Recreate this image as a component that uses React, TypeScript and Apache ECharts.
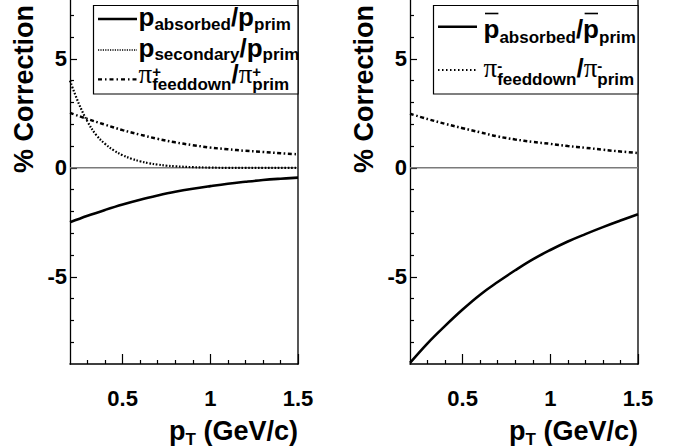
import React, { useEffect, useRef } from "react";
import * as echarts from "echarts";

// ---------- data ----------
const ptCoarse = [0.2, 0.3, 0.4, 0.5, 0.6, 0.7, 0.8, 0.9, 1.0, 1.1, 1.2, 1.3, 1.4, 1.5];
const ptFine = [0.2, 0.25, 0.3, 0.35, 0.4, 0.45, 0.5, 0.55, 0.6, 0.65, 0.7, 0.75, 0.8, 0.9, 1.0, 1.1, 1.2, 1.3, 1.4, 1.5];

const absorbedP = [-2.5, -2.2, -1.93, -1.68, -1.46, -1.27, -1.1, -0.96, -0.84, -0.73, -0.64, -0.56, -0.5, -0.45];
const secondaryP = [4.0, 2.95, 2.12, 1.5, 1.1, 0.8, 0.58, 0.42, 0.3, 0.21, 0.15, 0.1, 0.07, 0.03, 0.01, 0.0, 0.0, 0.0, 0.0, 0.0];
const feeddownPiPlus = [2.52, 2.24, 1.98, 1.73, 1.52, 1.33, 1.17, 1.04, 0.93, 0.85, 0.78, 0.73, 0.67, 0.62];

const absorbedPbar = [-8.95, -8.05, -7.25, -6.5, -5.82, -5.24, -4.7, -4.2, -3.77, -3.38, -3.04, -2.72, -2.42, -2.13];
const feeddownPiMinus = [2.48, 2.24, 2.02, 1.82, 1.63, 1.44, 1.3, 1.19, 1.1, 1.0, 0.92, 0.83, 0.75, 0.68];

const xMajorTicks = [0.5, 1, 1.5];
const xMinorTicks = [0.3, 0.4, 0.6, 0.7, 0.8, 0.9, 1.1, 1.2, 1.3, 1.4];
const yMajorTicks = [-5, 0, 5];
const yMinorTicks = [-8, -7, -6, -4, -3, -2, -1, 1, 2, 3, 4, 6, 7];

const X_MIN = 0.2;
const X_MAX = 1.5;
const Y_MIN = -9;
const Y_MAX = 7.7;

// ---------- styling ----------
const SANS = '"Liberation Sans", Arial, Helvetica, sans-serif';
const SERIF = '"Liberation Serif", "Times New Roman", serif';

const measureCtx = document.createElement("canvas").getContext("2d") as CanvasRenderingContext2D;
function textWidth(text: string, size: number, serif = false) {
  measureCtx.font = serif ? `normal ${size}px ${SERIF}` : `bold ${size}px ${SANS}`;
  return measureCtx.measureText(text).width;
}

type Piece = {
  t?: string;
  s: number;
  dy?: number;
  serif?: boolean;
  bar?: boolean;
  sup?: string;
  sub?: string;
  supDy?: number;
  subDy?: number;
  ss?: number;
};

function textEl(text: string, size: number, x: number, baseline: number, serif = false) {
  const off = serif ? 0.34 : 0.35;
  return {
    type: "text",
    x,
    y: baseline - off * size,
    z: 101,
    style: {
      text,
      fontSize: size,
      fontWeight: serif ? "normal" : "bold",
      fontFamily: serif ? SERIF : SANS,
      fill: "#000",
      align: "left",
      textAlign: "left",
      verticalAlign: "middle",
      textVerticalAlign: "middle",
    },
  };
}

function piecesWidth(pieces: Piece[]) {
  let w = 0;
  for (const p of pieces) {
    if (p.sup !== undefined || p.sub !== undefined) {
      const ss = p.ss ?? p.s;
      w += Math.max(textWidth(p.sup ?? "", ss), textWidth(p.sub ?? "", p.s));
    } else {
      w += textWidth(p.t ?? "", p.s, !!p.serif);
    }
  }
  return w;
}

function buildText(pieces: Piece[], x0: number, baseline: number) {
  const els: any[] = [];
  let x = x0;
  for (const p of pieces) {
    if (p.sup !== undefined || p.sub !== undefined) {
      const ss = p.ss ?? p.s;
      const wSup = textWidth(p.sup ?? "", ss);
      const wSub = textWidth(p.sub ?? "", p.s);
      if (p.sup) els.push(textEl(p.sup, ss, x, baseline + (p.supDy ?? -7)));
      if (p.sub) els.push(textEl(p.sub, p.s, x, baseline + (p.subDy ?? 6)));
      x += Math.max(wSup, wSub);
    } else {
      const w = textWidth(p.t ?? "", p.s, !!p.serif);
      els.push(textEl(p.t ?? "", p.s, x, baseline + (p.dy ?? 0), !!p.serif));
      if (p.bar) {
        els.push({
          type: "line",
          z: 101,
          shape: { x1: x + 1.5, y1: baseline - 24.5, x2: x + w - 1, y2: baseline - 24.5 },
          style: { stroke: "#000", lineWidth: 1.6 },
        });
      }
      x += w;
    }
  }
  return els;
}

const MAIN = 26;
const SUB = 17;

const legendLeftRows: { pieces: Piece[]; lineY: number; base: number; dash: number[] | null; lw: number }[] = [
  {
    pieces: [
      { t: "p", s: MAIN },
      { t: "absorbed", s: SUB, dy: 4 },
      { t: "/", s: MAIN },
      { t: "p", s: MAIN },
      { t: "prim", s: SUB, dy: 4 },
    ],
    lineY: 19,
    base: 26.5,
    dash: null,
    lw: 2.6,
  },
  {
    pieces: [
      { t: "p", s: MAIN },
      { t: "secondary", s: SUB, dy: 3 },
      { t: "/", s: MAIN },
      { t: "p", s: MAIN },
      { t: "prim", s: SUB, dy: 3 },
    ],
    lineY: 50,
    base: 57,
    dash: [1.2, 1.2],
    lw: 1.5,
  },
  {
    pieces: [
      { t: "π", s: 27, serif: true },
      { sup: "+", sub: "feeddown", s: SUB, ss: 15, supDy: -7, subDy: 7 },
      { t: "/", s: MAIN },
      { t: "π", s: 27, serif: true },
      { sup: "+", sub: "prim", s: SUB, ss: 15, supDy: -7, subDy: 7 },
    ],
    lineY: 79.3,
    base: 83.5,
    dash: [4, 3, 1.5, 3],
    lw: 2.2,
  },
];

const legendRightRows: typeof legendLeftRows = [
  {
    pieces: [
      { t: "p", s: MAIN, bar: true },
      { t: "absorbed", s: SUB, dy: 5 },
      { t: "/", s: MAIN },
      { t: "p", s: MAIN, bar: true },
      { t: "prim", s: SUB, dy: 5 },
    ],
    lineY: 26.7,
    base: 38,
    dash: null,
    lw: 2.6,
  },
  {
    pieces: [
      { t: "π", s: 27, serif: true },
      { sup: "-", sub: "feeddown", s: SUB, ss: 15, supDy: -6.5, subDy: 8 },
      { t: "/", s: MAIN },
      { t: "π", s: 27, serif: true },
      { sup: "-", sub: "prim", s: SUB, ss: 15, supDy: -6.5, subDy: 8 },
    ],
    lineY: 70,
    base: 77,
    dash: [1.5, 2.5],
    lw: 2.2,
  },
];

function buildLegend(rows: typeof legendLeftRows, box: { x: number; y: number; w: number; h: number }, lineX1: number, lineX2: number, textX: number) {
  const els: any[] = [
    {
      type: "rect",
      z: 100,
      shape: { x: box.x, y: box.y, width: box.w, height: box.h },
      style: { fill: "#fff", stroke: "#000", lineWidth: 1.2 },
    },
  ];
  for (const r of rows) {
    els.push({
      type: "line",
      z: 101,
      shape: { x1: lineX1, y1: r.lineY, x2: lineX2, y2: r.lineY },
      style: { stroke: "#000", lineWidth: r.lw, lineDash: r.dash ?? undefined },
    });
    els.push(...buildText(r.pieces, textX, r.base));
  }
  return els;
}

function yTitle(x: number) {
  return {
    type: "text",
    x,
    y: 5,
    rotation: Math.PI / 2,
    z: 101,
    style: {
      text: "% Correction",
      fontSize: 27,
      fontWeight: "bold",
      fontFamily: SANS,
      fill: "#000",
      align: "right",
      textAlign: "right",
      verticalAlign: "middle",
      textVerticalAlign: "middle",
    },
  };
}

const xTitlePieces: Piece[] = [
  { t: "p", s: 27 },
  { t: "T", s: 17, dy: 5 },
  { t: " (GeV/c)", s: 27 },
];

function xTitle(rightX: number) {
  const w = piecesWidth(xTitlePieces);
  return buildText(xTitlePieces, rightX - w - 1, 440.5);
}

const labelStyle = { color: "#000", fontSize: 22, fontWeight: "bold", fontFamily: SANS };

function xAxes(gridIndex: number) {
  return [
    {
      gridIndex,
      type: "value",
      min: X_MIN,
      max: X_MAX,
      position: "bottom",
      axisLine: { show: true, onZero: false, lineStyle: { color: "#000", width: 1.5 } },
      axisTick: { show: true, inside: true, length: 10, customValues: xMajorTicks, lineStyle: { color: "#000", width: 1.2 } },
      axisLabel: { show: true, customValues: xMajorTicks, margin: 23, ...labelStyle },
      splitLine: { show: false },
    },
    {
      gridIndex,
      type: "value",
      min: X_MIN,
      max: X_MAX,
      position: "bottom",
      axisLine: { show: false, onZero: false },
      axisTick: { show: true, inside: true, length: 4, customValues: xMinorTicks, lineStyle: { color: "#000", width: 1.2 } },
      axisLabel: { show: false },
      splitLine: { show: false },
    },
  ];
}

function yAxes(gridIndex: number) {
  return [
    {
      gridIndex,
      type: "value",
      min: Y_MIN,
      max: Y_MAX,
      position: "left",
      axisLine: { show: true, onZero: false, lineStyle: { color: "#000", width: 1.3 } },
      axisTick: { show: true, inside: true, length: 7, customValues: yMajorTicks, lineStyle: { color: "#000", width: 1.2 } },
      axisLabel: { show: true, customValues: yMajorTicks, margin: 3, ...labelStyle },
      splitLine: { show: false },
    },
    {
      gridIndex,
      type: "value",
      min: Y_MIN,
      max: Y_MAX,
      position: "left",
      axisLine: { show: false, onZero: false },
      axisTick: { show: true, inside: true, length: 4, customValues: yMinorTicks, lineStyle: { color: "#000", width: 1.2 } },
      axisLabel: { show: false },
      splitLine: { show: false },
    },
    {
      gridIndex,
      type: "value",
      min: Y_MIN,
      max: Y_MAX,
      position: "right",
      axisLine: { show: true, onZero: false, lineStyle: { color: "#444", width: 1.8 } },
      axisTick: { show: false },
      axisLabel: { show: false },
      splitLine: { show: false },
    },
  ];
}

const zip = (xs: number[], ys: number[]) => xs.map((x, i) => [x, ys[i]]);

function curve(name: string, xi: number, yi: number, xs: number[], ys: number[], width: number, type: any) {
  return {
    name,
    type: "line",
    xAxisIndex: xi,
    yAxisIndex: yi,
    data: zip(xs, ys),
    showSymbol: false,
    smooth: 0.4,
    z: 5,
    lineStyle: { color: "#000", width, type, cap: "butt" },
  };
}

function zeroLine(xi: number, yi: number) {
  return {
    type: "line",
    xAxisIndex: xi,
    yAxisIndex: yi,
    data: [
      [X_MIN, 0],
      [X_MAX, 0],
    ],
    showSymbol: false,
    z: 2,
    lineStyle: { color: "#7a7a7a", width: 1.5 },
    silent: true,
  };
}

export default function App() {
  const ref = useRef<HTMLDivElement>(null);
  useEffect(() => {
    if (!ref.current) return;
    const chart = echarts.init(ref.current, null, { renderer: "svg" });
    const option = {
      animation: false,
      backgroundColor: "#fff",
      grid: [
        { left: 70, top: 0, width: 228, height: 364 },
        { left: 410, top: 0, width: 228, height: 364 },
      ],
      xAxis: [...xAxes(0), ...xAxes(1)],
      yAxis: [...yAxes(0), ...yAxes(1)],
      series: [
        zeroLine(0, 0),
        curve("p absorbed / p prim", 0, 0, ptCoarse, absorbedP, 2.6, "solid"),
        curve("p secondary / p prim", 0, 0, ptFine, secondaryP, 2.2, [1.6, 1.7]),
        curve("pi+ feeddown / pi+ prim", 0, 0, ptCoarse, feeddownPiPlus, 2.5, [4, 2.5, 1.6, 2.5]),
        zeroLine(2, 3),
        curve("pbar absorbed / pbar prim", 2, 3, ptCoarse, absorbedPbar, 2.6, "solid"),
        curve("pi- feeddown / pi- prim", 2, 3, ptCoarse, feeddownPiMinus, 2.5, [4, 2.5, 1.6, 2.5]),
      ],
      graphic: {
        elements: [
          ...buildLegend(legendLeftRows, { x: 93.5, y: 5.5, w: 204.5, h: 88.5 }, 98, 137, 138.5),
          ...buildLegend(legendRightRows, { x: 433.5, y: 5.5, w: 204.5, h: 88.5 }, 438, 477, 483.5),
          yTitle(23.5),
          yTitle(363.5),
          ...xTitle(299),
          ...xTitle(639),
        ],
      },
    };
    chart.setOption(option as any);
    return () => chart.dispose();
  }, []);
  return (
    <div
      ref={ref}
      style={{ position: "fixed", left: 0, top: 0, width: 678, height: 448, background: "#fff" }}
    />
  );
}
